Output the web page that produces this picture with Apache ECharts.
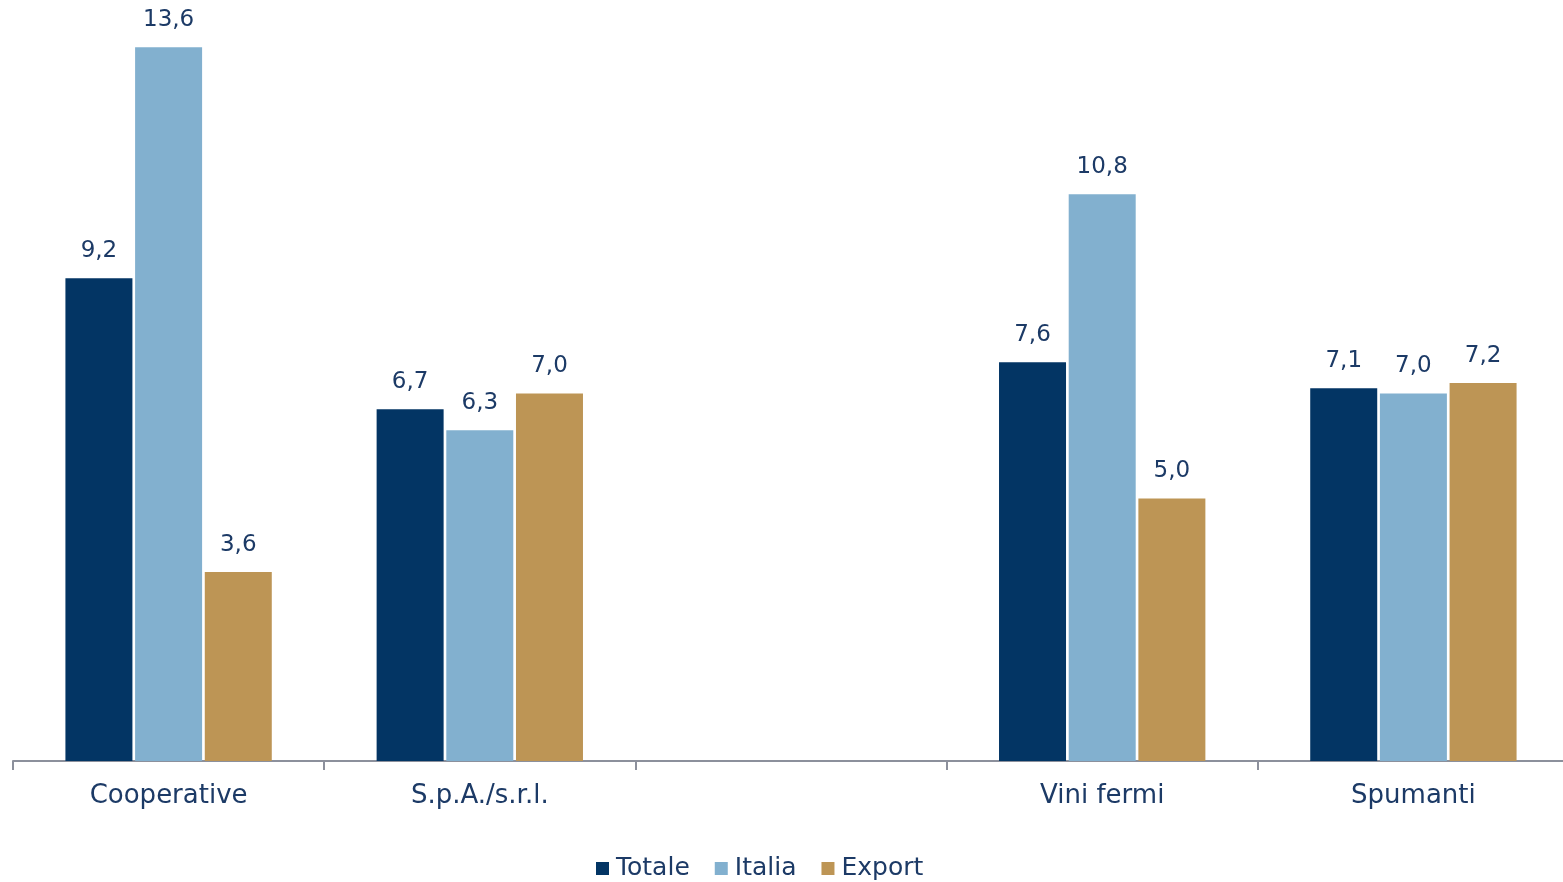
<!DOCTYPE html>
<html>
<head>
<meta charset="utf-8">
<script src="https://cdn.jsdelivr.net/npm/echarts@6/dist/echarts.min.js"></script>
<style>
  html, body { margin: 0; padding: 0; background: #fff; overflow: hidden; }
  #chart { width: 1575px; height: 882px; }
</style>
</head>
<body>
<div id="chart"></div>
<script>
// Categories (the blank slot separates the two groups)
const categories = ['Cooperative', 'S.p.A./s.r.l.', '', 'Vini fermi', 'Spumanti'];
const totale = [9.2, 6.7, null, 7.6, 7.1];
const italia = [13.6, 6.3, null, 10.8, 7.0];
const exportVals = [3.6, 7.0, null, 5.0, 7.2];

const FONT = '"DejaVu Sans", sans-serif';
const TEXT = '#1c3a66';

const fmt = p => (p.value == null ? '' : p.value.toFixed(1).replace('.', ','));

function barSeries(name, data, color) {
  return {
    name, type: 'bar', data,
    barWidth: 67, barGap: '4%',
    itemStyle: { color },
    label: {
      show: true, position: 'top', distance: 16,
      formatter: fmt, color: TEXT, fontFamily: FONT, fontSize: 23
    }
  };
}

const chart = echarts.init(document.getElementById('chart'), null, { renderer: 'canvas' });
chart.setOption({
  animation: false,
  legend: {
    top: 851, left: 591,
    itemWidth: 13, itemHeight: 13, itemGap: 25,
    icon: 'rect',
    textStyle: { color: TEXT, fontFamily: FONT, fontSize: 25, padding: [0, 0, 0, 2] },
    data: ['Totale', 'Italia', 'Export']
  },
  grid: { left: 13, top: 0, width: 1556, height: 761, containLabel: false },
  xAxis: {
    type: 'category', data: categories,
    axisLine: { lineStyle: { color: '#8c909c', width: 2 } },
    axisTick: { show: true, length: 9, lineStyle: { color: '#8c909c', width: 2 } },
    axisLabel: { color: TEXT, fontFamily: FONT, fontSize: 26, margin: 22 }
  },
  yAxis: {
    type: 'value', min: 0, max: 14.5,
    show: false, splitLine: { show: false }
  },
  series: [
    barSeries('Totale', totale, '#033564'),
    barSeries('Italia', italia, '#82b0cf'),
    barSeries('Export', exportVals, '#bd9555')
  ]
});
</script>
</body>
</html>
